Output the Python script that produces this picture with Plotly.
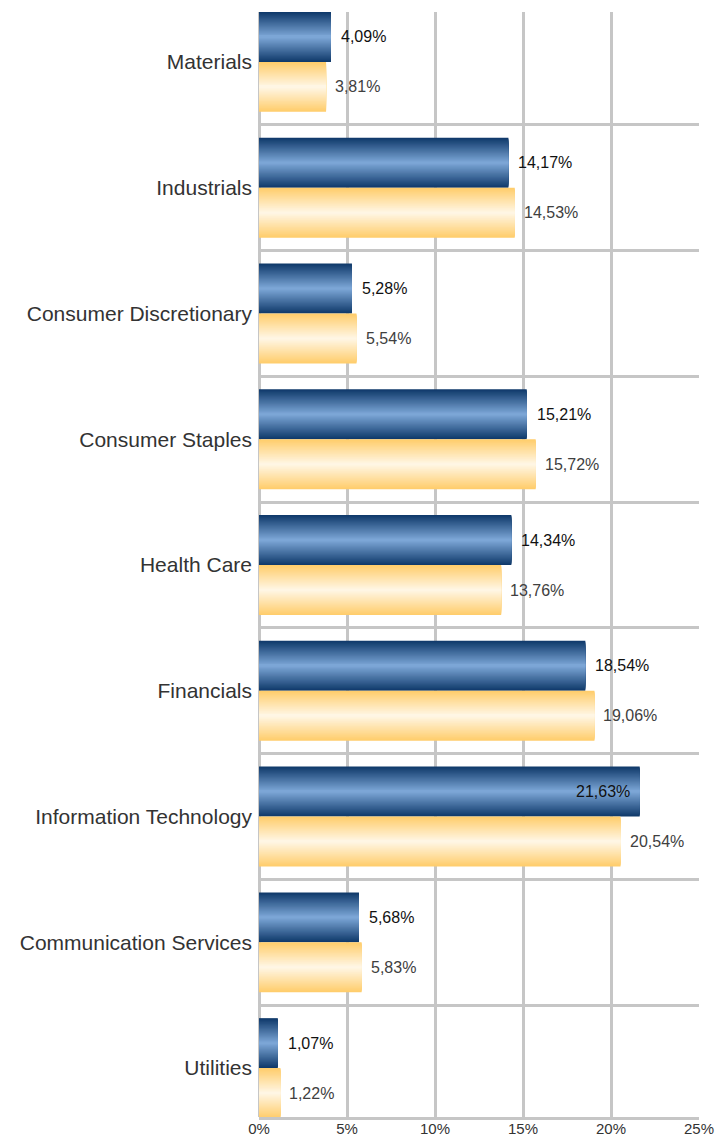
import plotly.graph_objects as go

categories = ["Materials", "Industrials", "Consumer Discretionary", "Consumer Staples",
              "Health Care", "Financials", "Information Technology",
              "Communication Services", "Utilities"]
series_a = [4.09, 14.17, 5.28, 15.21, 14.34, 18.54, 21.63, 5.68, 1.07]
series_b = [3.81, 14.53, 5.54, 15.72, 13.76, 19.06, 20.54, 5.83, 1.22]
tick_vals = [0, 5, 10, 15, 20, 25]
tick_text = ["0%", "5%", "10%", "15%", "20%", "25%"]

BAR_T = 0.397
N = 25
BLUE_EDGE, BLUE_MID = (16, 58, 107), (124, 166, 214)
YEL_EDGE, YEL_MID = (255, 205, 108), (255, 246, 228)
FONT = "Liberation Sans, Arial"


def lerp(c1, c2, t):
    return "rgb(%d,%d,%d)" % tuple(round(a + (b - a) * t) for a, b in zip(c1, c2))


def fmt(v):
    return ("%.2f" % v).replace(".", ",") + "%"


fig = go.Figure()


def add_series(vals, edge, mid, center_off):
    for k in range(N):
        t = k / (N - 1)
        w = BAR_T * (1 - k / N)
        fig.add_trace(go.Bar(
            y=categories, x=vals, orientation="h",
            width=w, offset=center_off - w / 2,
            marker=dict(color=lerp(edge, mid, t), line=dict(width=0)),
            showlegend=False, hoverinfo="skip"))


add_series(series_a, BLUE_EDGE, BLUE_MID, -BAR_T / 2)
add_series(series_b, YEL_EDGE, YEL_MID, BAR_T / 2)

annotations = []
for cat, a, b in zip(categories, series_a, series_b):
    inside = a > 20.5
    annotations.append(dict(
        x=a, y=cat, text=fmt(a), showarrow=False,
        xanchor="right" if inside else "left", xshift=-8 if inside else 8, yshift=25,
        font=dict(family=FONT, size=16, color="#111111")))
    annotations.append(dict(
        x=b, y=cat, text=fmt(b), showarrow=False,
        xanchor="left", xshift=7, yshift=-25,
        font=dict(family=FONT, size=16, color="#404040")))

grid = "#c6c6c6"
fig.update_layout(
    width=718, height=1137,
    margin=dict(l=259, r=19, t=12, b=20, autoexpand=False),
    barmode="overlay",
    plot_bgcolor="white", paper_bgcolor="white",
    font=dict(family=FONT, color="#333333"),
    annotations=annotations,
    xaxis=dict(range=[0, 25], tickmode="array", tickvals=tick_vals, ticktext=tick_text,
               showgrid=True, gridcolor=grid, gridwidth=2.5,
               zeroline=True, zerolinecolor=grid, zerolinewidth=2.5,
               showline=True, linecolor=grid, linewidth=2.5, automargin=False,
               ticklabelstandoff=-4,
               tickfont=dict(size=15, color="#333333"), ticks="", fixedrange=True),
    yaxis=dict(type="category", categoryarray=categories, categoryorder="array",
               range=[8.389, -0.397], tickson="boundaries", ticks="", automargin=False,
               showgrid=True, gridcolor=grid, gridwidth=2.5,
               tickfont=dict(size=21, color="#333333"), ticklabelstandoff=6),
)

fig.write_html("out.html", config={"displayModeBar": False},
               post_script="document.body.style.margin='0';")
